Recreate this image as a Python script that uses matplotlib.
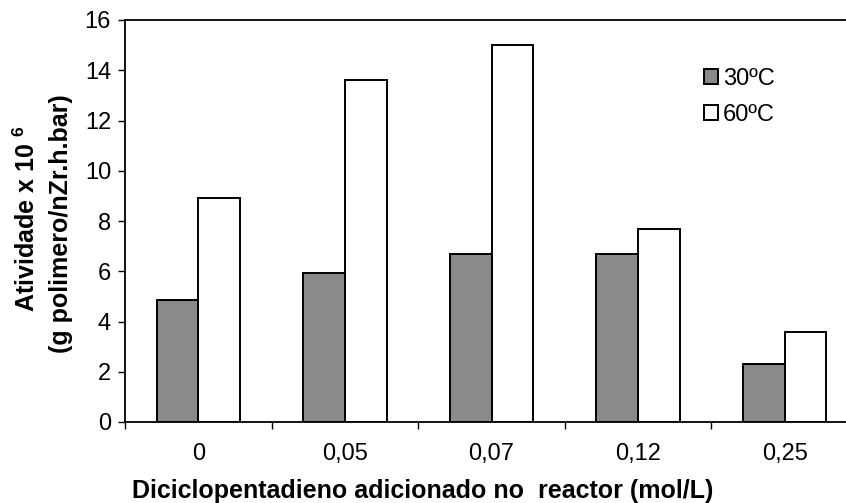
import matplotlib
matplotlib.use("Agg")
import matplotlib.pyplot as plt
import numpy as np

plt.rcParams["font.family"] = ["Liberation Sans", "DejaVu Sans"]
plt.rcParams["mathtext.fontset"] = "custom"
plt.rcParams["mathtext.rm"] = "Liberation Sans"
plt.rcParams["mathtext.bf"] = "Liberation Sans:bold"

categories = ["0", "0,05", "0,07", "0,12", "0,25"]
act_30 = [4.85, 5.95, 6.7, 6.67, 2.3]
act_60 = [8.92, 13.6, 15.0, 7.68, 3.57]
series_labels = ["30ºC", "60ºC"]

W, H = 846, 503
fig = plt.figure(figsize=(W / 100, H / 100), dpi=100)
# axes runs past the right edge of the picture, as in the reference
ax = fig.add_axes([125 / W, 1 - 422 / H, 733 / W, 402 / H])

x = np.arange(len(categories))
bw = 0.284
ax.bar(x - bw / 2, act_30, bw, color="#8a8a8a", edgecolor="black", lw=1.4,
       label=series_labels[0], zorder=2)
ax.bar(x + bw / 2, act_60, bw, color="white", edgecolor="black", lw=1.4,
       label=series_labels[1], zorder=2)

ax.set_xlim(-0.5, len(categories) - 0.5)
ax.set_ylim(0, 16)
ax.set_yticks(np.arange(0, 17, 2))
ax.set_xticks(x)
ax.set_xticklabels(categories)
ax.set_xticks(np.arange(-0.5, len(categories), 1.0), minor=True)
ax.tick_params(axis="x", which="major", length=0, pad=15, labelsize=17)
ax.tick_params(axis="x", which="minor", length=5, width=1, direction="out")
ax.tick_params(axis="y", length=5, width=1, direction="out", pad=5, labelsize=17)
for s in ax.spines.values():
    s.set_linewidth(1.3)

fig.text(27 / W, 1 - 219 / H, r"Atividade x 10 $^{\mathbf{6}}$", rotation=90,
         ha="center", va="center", fontsize=18, fontweight="bold")
fig.text(61 / W, 1 - 224 / H, "(g polimero/nZr.h.bar)", rotation=90,
         ha="center", va="center", fontsize=18, fontweight="bold")
fig.text(0.5, 1 - 491 / H, "Diciclopentadieno adicionado no  reactor (mol/L)",
         ha="center", va="center", fontsize=18, fontweight="bold")

ax.legend(loc="upper left", bbox_to_anchor=(704 / W, 1 - 68 / H),
          bbox_transform=fig.transFigure, frameon=False, fontsize=17,
          handlelength=0.6, handleheight=0.6, handletextpad=0.2,
          labelspacing=0.6, borderpad=0, borderaxespad=0)

fig.savefig("out.png", dpi=100)
